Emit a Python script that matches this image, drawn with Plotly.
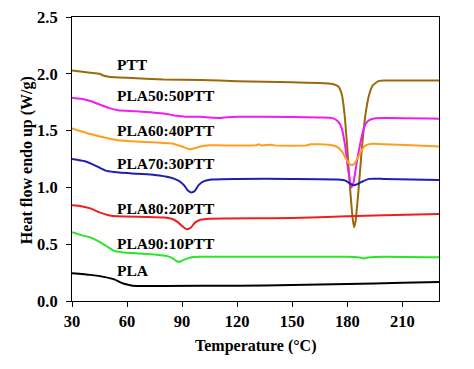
import plotly.graph_objects as go

# ---- data ----
ptt_T = [30, 40, 45, 47, 50, 60, 80, 100, 120, 150, 165, 172, 175, 177, 178.5, 180, 181.5, 183, 183.7, 184.5, 186, 188, 190, 192, 194, 197, 200, 230]
ptt_v = [2.03, 2.01, 2.00, 1.985, 1.975, 1.965, 1.95, 1.945, 1.935, 1.925, 1.92, 1.91, 1.89, 1.82, 1.65, 1.35, 1.0, 0.72, 0.65, 0.70, 0.95, 1.35, 1.65, 1.82, 1.90, 1.935, 1.94, 1.94]

p50_T = [30, 35, 40, 45, 50, 55, 65, 80, 87, 92, 100, 105, 110, 115, 120, 150, 165, 172, 175, 177, 179, 180.5, 182.3, 183.5, 185, 187, 189, 191, 194, 200, 230]
p50_v = [1.79, 1.78, 1.76, 1.73, 1.70, 1.68, 1.67, 1.65, 1.63, 1.622, 1.622, 1.615, 1.61, 1.618, 1.622, 1.62, 1.615, 1.61, 1.58, 1.52, 1.35, 1.15, 1.0, 1.05, 1.2, 1.38, 1.52, 1.58, 1.605, 1.61, 1.605]

p60_T = [30, 40, 50, 55, 70, 85, 90, 94, 97, 100, 105, 130, 132, 133, 139, 140, 158, 160, 170, 174, 177, 179, 181, 182.5, 184, 186, 188, 190, 194, 200, 215, 230]
p60_v = [1.52, 1.47, 1.43, 1.415, 1.40, 1.385, 1.36, 1.335, 1.345, 1.36, 1.37, 1.37, 1.38, 1.37, 1.375, 1.37, 1.37, 1.38, 1.375, 1.36, 1.32, 1.26, 1.21, 1.195, 1.21, 1.27, 1.33, 1.37, 1.385, 1.38, 1.37, 1.36]

p70_T = [30, 37, 43, 48, 53, 65, 75, 83, 88, 91, 93, 95, 97, 99, 102, 106, 120, 150, 175, 179, 181, 183, 185, 188, 192, 200, 230]
p70_v = [1.25, 1.23, 1.19, 1.15, 1.135, 1.12, 1.11, 1.09, 1.06, 1.02, 0.975, 0.956, 0.97, 1.02, 1.055, 1.07, 1.075, 1.075, 1.07, 1.06, 1.04, 1.02, 1.025, 1.05, 1.075, 1.075, 1.065]

p80_T = [30, 35, 40, 45, 50, 55, 70, 80, 85, 88, 90, 92, 93, 95, 97, 100, 105, 150, 180, 200, 230]
p80_v = [0.842, 0.835, 0.815, 0.78, 0.755, 0.745, 0.74, 0.735, 0.72, 0.69, 0.66, 0.635, 0.633, 0.65, 0.69, 0.715, 0.725, 0.73, 0.745, 0.755, 0.765]

p90_T = [30, 35, 40, 45, 50, 53, 57, 65, 75, 82, 85, 87, 88.5, 90, 93, 96, 100, 150, 180, 186, 189, 192, 200, 230]
p90_v = [0.605, 0.58, 0.56, 0.52, 0.47, 0.44, 0.43, 0.42, 0.41, 0.395, 0.375, 0.35, 0.345, 0.355, 0.375, 0.388, 0.39, 0.39, 0.39, 0.385, 0.375, 0.385, 0.39, 0.385]

pla_T = [30, 40, 48, 53, 57, 60, 63, 80, 120, 150, 180, 210, 230]
pla_v = [0.245, 0.23, 0.21, 0.19, 0.16, 0.145, 0.135, 0.133, 0.135, 0.14, 0.15, 0.16, 0.168]

names = ["PTT", "PLA50:50PTT", "PLA60:40PTT", "PLA70:30PTT", "PLA80:20PTT", "PLA90:10PTT", "PLA"]
label_x = [53.4, 53.4, 53.4, 53.4, 53.4, 53.4, 53.4]
label_y = [2.08, 1.805, 1.50, 1.21, 0.81, 0.506, 0.27]

x_ticks = [30, 60, 90, 120, 150, 180, 210]
y_ticks = [0.0, 0.5, 1.0, 1.5, 2.0, 2.5]

series = [(ptt_T, ptt_v), (p50_T, p50_v), (p60_T, p60_v), (p70_T, p70_v),
          (p80_T, p80_v), (p90_T, p90_v), (pla_T, pla_v)]
colors = ["#9A6A0A", "#F01CF0", "#FF9E1E", "#1E1EB4", "#F01E1E", "#28E628", "#000000"]

font_family = "Liberation Serif, Times New Roman, serif"
FS = 16.5
LFS = 15.5

fig = go.Figure()
for (t, v), c, n in zip(series, colors, names):
    fig.add_trace(go.Scatter(x=t, y=v, mode="lines", name=n,
                             line=dict(color=c, width=2, shape="spline", smoothing=0.5),
                             showlegend=False, hoverinfo="skip"))

for n, lx, ly in zip(names, label_x, label_y):
    fig.add_annotation(x=lx, y=ly, text="<b>%s</b>" % n, showarrow=False,
                       xanchor="left", yanchor="middle",
                       font=dict(family=font_family, size=LFS, color="black"))

# axis titles
fig.add_annotation(x=0.5, y=-0.158, xref="paper", yref="paper", text="<b>Temperature (°C)</b>",
                   showarrow=False, xanchor="center", yanchor="middle",
                   font=dict(family=font_family, size=16, color="black"))
fig.add_annotation(x=-0.1226, y=0.496, xref="paper", yref="paper", text="<b>Heat flow endo up (W/g)</b>",
                   showarrow=False, xanchor="center", yanchor="middle", textangle=-90,
                   font=dict(family=font_family, size=16, color="black"))

fig.update_layout(
    width=466, height=361,
    margin=dict(l=64, r=35, t=9, b=68),
    paper_bgcolor="white", plot_bgcolor="white",
    font=dict(family=font_family, size=FS, color="black"),
    showlegend=False,
)
fig.update_xaxes(range=[30, 230], tickvals=x_ticks, ticktext=["<b>%d</b>" % v for v in x_ticks],
                 ticks="outside", ticklen=5, tickwidth=1, tickcolor="black",
                 showline=True, linecolor="black", linewidth=1, mirror=True,
                 showgrid=False, zeroline=False, automargin=False, ticklabeloverflow="allow",
                 tickfont=dict(family=font_family, size=FS))
fig.update_yaxes(range=[0, 2.5], tickvals=y_ticks, ticktext=["<b>%.1f</b>" % v for v in y_ticks],
                 ticks="outside", ticklen=5, tickwidth=1, tickcolor="black",
                 showline=True, linecolor="black", linewidth=1, mirror=True,
                 showgrid=False, zeroline=False, automargin=False, ticklabelstandoff=5,
                 ticklabeloverflow="allow",
                 tickfont=dict(family=font_family, size=FS))

fig.write_html("out.html")
